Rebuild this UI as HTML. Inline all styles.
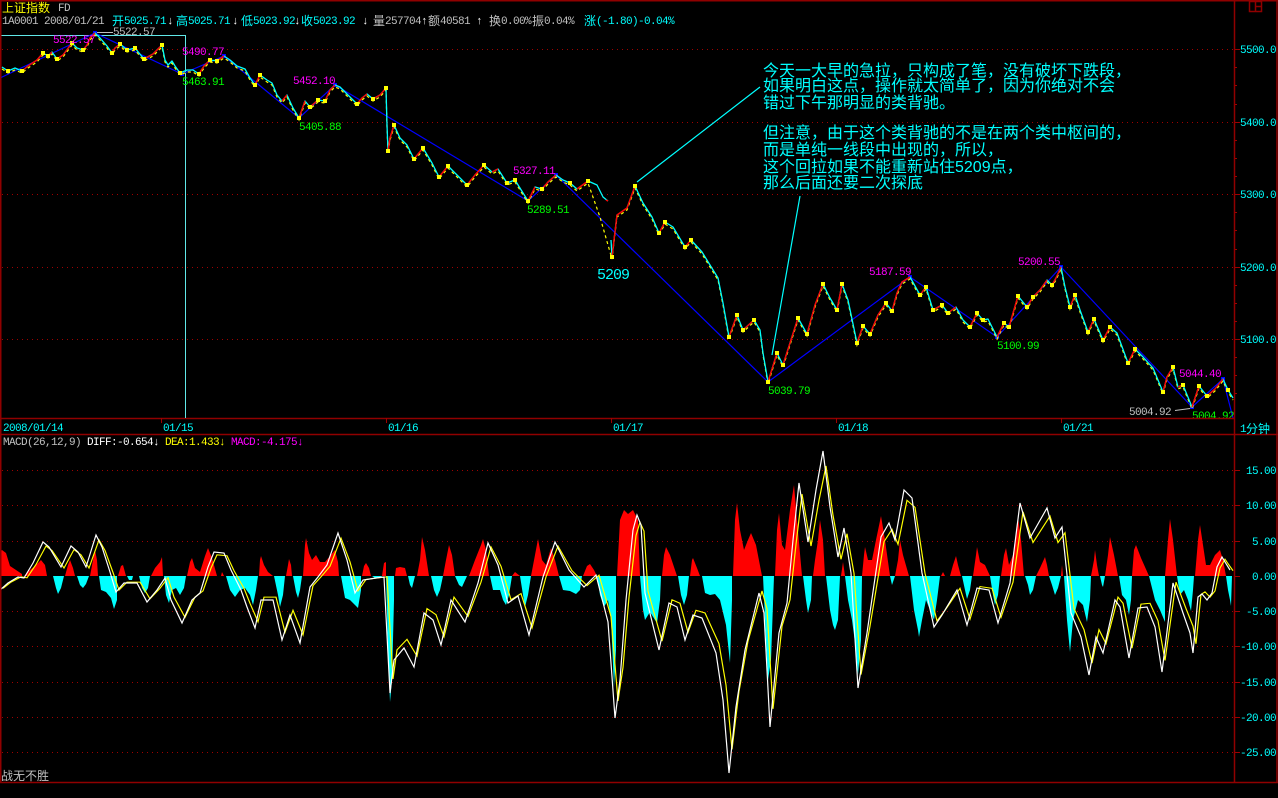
<!DOCTYPE html>
<html><head><meta charset="utf-8">
<style>
html,body{margin:0;padding:0;background:#000;width:1278px;height:798px;overflow:hidden}
svg{display:block}
.m{font-family:"Liberation Mono",monospace;font-size:11px;letter-spacing:-0.6px}
.c{font-family:"Liberation Sans","Noto Sans CJK SC",sans-serif;font-size:12px}
.t{font-family:"Liberation Sans","Noto Sans CJK SC",sans-serif;font-size:16px;fill:#00ffff}
</style></head>
<body>
<svg width="1278" height="798" viewBox="0 0 1278 798" xmlns="http://www.w3.org/2000/svg">
<rect width="1278" height="798" fill="#000"/>
<defs>
<path id="dif" fill="none" d="M0,590L8,583L18,577L24,578L33,563L43,542L49,547L61,567L71,546L78,552L86,567L96,535L102,547L110,572L116,592L124,583L137,583L147,602L157,590L165,578L171,600L182,623L192,600L200,593L208,567L214,552L224,553L231,570L241,590L247,607L255,628L261,600L273,600L282,640L290,615L300,643L310,587L318,577L327,565L338,533L347,560L355,593L363,580L376,578L384,577L390,693L394,660L404,648L414,667L424,613L433,620L441,645L451,600L465,622L478,583L488,543L498,565L508,603L518,596L529,635L543,577L555,542L569,570L584,587L596,575L608,622L615,718L620,680L626,600L633,530L637,515L641,525L645,593L659,650L669,603L677,607L685,640L693,615L702,618L716,653L723,700L729,773L736,707L745,650L759,593L764,613L770,727L779,633L787,603L793,540L799,483L808,542L816,490L823,451L830,507L838,557L844,528L851,573L858,688L867,633L881,537L889,523L895,540L904,490L912,498L922,573L934,627L942,615L957,590L967,625L977,588L989,590L998,623L1010,583L1020,503L1030,538L1047,508L1055,538L1062,527L1071,613L1081,637L1089,675L1096,637L1103,653L1115,600L1120,607L1129,658L1138,608L1147,607L1155,627L1162,672L1173,583L1183,613L1190,633L1193,653L1198,597L1202,594L1207,600L1212,593L1217,567L1222,557L1225,562L1230,570"/>
</defs>

<!-- grid lines main -->
<g stroke="#a00000" stroke-width="1" stroke-dasharray="1,4" fill="none">
<path d="M2,49.5H1234M2,122.5H1234M2,194.5H1234M2,267.5H1234M2,339.5H1234"/>
<path d="M2,470.5H1234M2,505.5H1234M2,541.5H1234M2,611.5H1234M2,646.5H1234M2,682.5H1234M2,717.5H1234M2,752.5H1234"/>
</g>

<!-- cyan rectangle -->
<path d="M0,35.5H185.5V418" stroke="#60e8e8" fill="none" stroke-width="1"/>

<!-- blue zigzag -->
<path d="M0,78L95,33L182,74L224,56L299,118L335,85L528,201L556,175L768,382L910,277L997,337L1061,267L1192,407L1223,379L1233,418" stroke="#0000ff" fill="none" stroke-width="1.2"/>
<path d="M95,33h0M182,74h0M224,56h0M299,118h0M335,85h0M528,201h0M556,175h0M768,382h0M910,277h0M997,337h0M1061,267h0M1192,407h0M1223,379h0" stroke="#0000ff" stroke-width="4" stroke-linecap="square"/>

<!-- yellow dashed price line -->
<path transform="translate(0,2)" fill="none" stroke="#ffff00" stroke-width="1.2" stroke-dasharray="3,3" d="M2,67L8,71L15,68L22,71L28,66L37,60L43,53L48,56L52,52L57,59L63,55L72,43L77,48L83,50L87,45L90,38L95,33L100,38L107,46L112,53L115,48L120,44L127,50L135,48L144,59L153,54L162,45L165,60L168,65L172,61L175,66L180,73L187,70L193,70L199,74L204,66L210,60L217,61L224,56L230,60L237,66L245,69L250,78L255,85L260,75L267,80L272,83L277,95L282,101L287,95L293,108L299,118L305,101L310,107L318,100L325,101L330,90L335,85L340,87L348,95L357,104L362,98L367,94L373,99L380,95L386,88L387,125L388,151L390,138L394,125L400,138L407,145L414,159L423,148L432,163L439,177L448,166L457,175L467,185L475,175L484,165L492,172L498,169L507,183L515,180L528,201L535,187L542,189L548,182L556,175L563,180L570,183L577,189L588,181L600,215L612,257L617,215L627,208L635,186L643,203L652,217L659,233L665,222L673,227L685,247L691,240L702,252L710,265L718,278L723,303L729,337L737,315L743,330L754,320L760,330L763,353L768,382L777,353L783,365L790,343L798,318L807,334L815,305L823,284L830,298L837,310L842,284L848,300L857,343L863,326L870,334L878,315L886,303L892,311L897,293L902,282L910,277L920,295L926,287L933,310L942,305L948,313L956,307L963,320L970,327L977,313L983,320L988,319L997,337L1004,323L1009,327L1018,296L1027,307L1033,297L1040,290L1047,280L1052,285L1056,278L1061,267L1065,287L1070,307L1075,295L1080,310L1088,332L1094,319L1103,340L1110,327L1117,333L1128,363L1135,349L1143,357L1153,368L1163,392L1167,377L1173,367L1178,387L1183,385L1192,407L1199,386L1207,396L1215,389L1223,379L1228,390L1233,398"/>

<!-- cyan price line -->
<path fill="none" stroke="#00ffff" stroke-width="1.3" stroke-linejoin="round" d="M2,67L8,71L15,68L22,71L28,66L37,60L43,53L48,56L52,52L57,59L63,55L72,43L77,48L83,50L87,45L90,38L95,33L100,38L107,46L112,53L115,48L120,44L127,50L135,48L144,59L153,54L162,45L165,60L168,65L172,61L175,66L180,73L187,70L193,70L199,74L204,66L210,60L217,61L224,56L230,60L237,66L245,69L250,78L255,85L260,75L267,80L272,83L277,95L282,101L287,95L293,108L299,118L305,101L310,107L318,100L325,101L330,90L335,85L340,87L348,95L357,104L362,98L367,94L373,99L380,95L386,88L387,125L388,151L390,138L394,125L400,138L407,145L414,159L423,148L432,163L439,177L448,166L457,175L467,185L475,175L484,165L492,172L498,169L507,183L515,180L528,201L535,187L542,189L548,182L556,175L563,180L570,183L577,189L588,181L597,185L603,197L608,201M611,240L612,257L617,215L627,208L635,186L643,203L652,217L659,233L665,222L673,227L685,247L691,240L702,252L710,265L718,278L723,303L729,337L737,315L743,330L754,320L760,330L763,353L768,382L777,353L783,365L790,343L798,318L807,334L815,305L823,284L830,298L837,310L842,284L848,300L857,343L863,326L870,334L878,315L886,303L892,311L897,293L902,282L910,277L920,295L926,287L933,310L942,305L948,313L956,307L963,320L970,327L977,313L983,320L988,319L997,337L1004,323L1009,327L1018,296L1027,307L1033,297L1040,290L1047,280L1052,285L1056,278L1061,267L1065,287L1070,307L1075,295L1080,310L1088,332L1094,319L1103,340L1110,327L1117,333L1128,363L1135,349L1143,357L1153,368L1163,392L1167,377L1173,367L1178,387L1183,385L1192,407L1199,386L1207,396L1215,389L1223,379L1228,390L1233,398"/>

<!-- red rising segments -->
<path fill="none" stroke="#ff0000" stroke-width="1.4" stroke-linejoin="round" d="M22,71L28,66L37,60L43,53M48,56L52,52M57,59L63,55L72,43M83,50L87,45L90,38L95,33M112,53L115,48L120,44M144,59L153,54L162,45M199,74L204,66L210,60M217,61L224,56M255,85L260,75M282,101L287,95M299,118L305,101M310,107L318,100M325,101L330,90L335,85M357,104L362,98L367,94M373,99L380,95L386,88M388,151L390,138L394,125M414,159L423,148M439,177L448,166M467,185L475,175L484,165M492,172L498,169M528,201L535,187M542,189L548,182L556,175M577,189L588,181M606,200L608,201M612,257L617,215L627,208L635,186M659,233L665,222M685,247L691,240M729,337L737,315M743,330L754,320M768,382L777,353M783,365L790,343L798,318M807,334L815,305L823,284M837,310L842,284M857,343L863,326M870,334L878,315L886,303M892,311L897,293L902,282L910,277M920,295L926,287M933,310L942,305M948,313L956,307M970,327L977,313M997,337L1004,323M1009,327L1018,296M1027,307L1033,297L1040,290L1047,280M1052,285L1056,278L1061,267M1070,307L1075,295M1088,332L1094,319M1103,340L1110,327M1128,363L1135,349M1163,392L1167,377L1173,367M1178,387L1183,385M1192,407L1199,386M1207,396L1215,389L1223,379"/>

<!-- yellow dots -->
<path stroke="#ffff00" stroke-width="4" stroke-linecap="square" d="M8,71h0M22,71h0M43,53h0M48,56h0M57,59h0M72,43h0M83,50h0M112,53h0M120,44h0M127,50h0M135,48h0M144,59h0M162,45h0M180,73h0M199,74h0M210,60h0M217,61h0M255,85h0M260,75h0M299,118h0M310,107h0M318,100h0M325,101h0M357,104h0M373,99h0M386,88h0M388,151h0M394,125h0M414,159h0M423,148h0M439,177h0M448,166h0M467,185h0M484,165h0M507,183h0M515,180h0M528,201h0M542,189h0M570,183h0M588,181h0M612,257h0M635,186h0M659,233h0M665,222h0M685,247h0M691,240h0M729,337h0M737,315h0M743,330h0M754,320h0M768,382h0M777,353h0M783,365h0M798,318h0M807,334h0M823,284h0M837,310h0M842,284h0M857,343h0M863,326h0M870,334h0M886,303h0M892,311h0M920,295h0M926,287h0M933,310h0M942,305h0M948,313h0M970,327h0M977,313h0M983,320h0M1004,323h0M1009,327h0M1018,296h0M1027,307h0M1033,297h0M1052,285h0M1070,307h0M1075,295h0M1088,332h0M1094,319h0M1103,340h0M1110,327h0M1128,363h0M1135,349h0M1163,392h0M1173,367h0M1183,385h0M1199,386h0M1207,396h0M1228,390h0"/>

<!-- cyan leader lines -->
<path d="M637,182L760,87M772,355L800,196" stroke="#00ffff" stroke-width="1.2" fill="none"/>
<!-- white leaders -->
<path d="M97,32.5H113M1175,410.5L1190,408.5" stroke="#c0c0c0" stroke-width="1" fill="none"/>

<!-- price labels -->
<g class="m">
<text x="113" y="35" fill="#c0c0c0">5522.57</text>
<text x="53" y="43" fill="#ff00ff">5522.57</text>
<text x="182" y="55" fill="#ff00ff">5490.77</text>
<text x="182" y="85" fill="#00ff00">5463.91</text>
<text x="293" y="84" fill="#ff00ff">5452.10</text>
<text x="299" y="130" fill="#00ff00">5405.88</text>
<text x="513" y="174" fill="#ff00ff">5327.11</text>
<text x="527" y="213" fill="#00ff00">5289.51</text>
<text x="768" y="394" fill="#00ff00">5039.79</text>
<text x="869" y="275" fill="#ff00ff">5187.59</text>
<text x="997" y="349" fill="#00ff00">5100.99</text>
<text x="1018" y="265" fill="#ff00ff">5200.55</text>
<text x="1179" y="377" fill="#ff00ff">5044.40</text>
<text x="1129" y="415" fill="#c0c0c0">5004.92</text>
<text x="1192" y="419" fill="#00ff00">5004.92</text>
</g>
<text x="597" y="279" fill="#00ffff" style="font-family:'Liberation Mono',monospace;font-size:15px;letter-spacing:-1px">5209</text>

<!-- annotation text -->
<text class="t" x="763" y="76">今天一大早的急拉，只构成了笔，没有破坏下跌段，</text>
<text class="t" x="763" y="91">如果明白这点，操作就太简单了，因为你绝对不会</text>
<text class="t" x="763" y="108">错过下午那明显的类背驰。</text>
<text class="t" x="763" y="138">但注意，由于这个类背驰的不是在两个类中枢间的，</text>
<text class="t" x="763" y="155">而是单纯一线段中出现的，所以，</text>
<text class="t" x="763" y="172">这个回拉如果不能重新站住5209点，</text>
<text class="t" x="763" y="188">那么后面还要二次探底</text>

<!-- MACD histogram -->
<path fill="#ff0000" d="M0,576L0,552L2,550L6,553L10,566L16,570L22,574L22,576ZM24,576L30,570L36,565L41,560L45,565L47,576ZM65,576L68,565L70,560L73,568L75,576ZM90,576L93,560L95,550L97,560L98,576ZM118,576L121,566L123,565L126,576ZM151,576L155,568L160,562L162,557L163,576ZM187,576L190,562L192,558L195,568L200,572L205,556L208,548L212,558L217,576ZM221,576L222,572L224,576ZM259,576L260,560L261,556L264,565L268,572L273,576ZM286,576L288,565L289,559L291,565L292,576ZM303,576L305,545L306,538L309,553L312,560L316,555L320,562L325,562L330,556L335,550L338,562L339,576ZM362,576L364,566L366,563L369,568L371,576ZM382,576L384,563L386,562L386,576ZM395,576L396,568L400,567L405,568L407,576ZM417,576L420,560L422,537L425,550L429,576ZM443,576L446,560L449,545L452,555L455,576ZM469,576L475,560L481,545L483,539L486,550L489,576ZM512,576L515,572L520,576ZM531,576L535,555L538,539L542,560L546,565L551,548L555,560L559,576ZM583,576L587,566L590,564L594,570L597,576ZM617,576L620,520L624,510L628,514L633,510L638,520L640,576ZM662,576L664,555L666,547L670,555L677,576ZM690,576L692,560L693,558L697,568L700,576ZM733,576L735,520L737,503L740,530L744,550L748,540L751,533L756,545L762,576ZM775,576L777,530L779,513L782,545L785,550L790,510L794,485L797,520L802,576ZM813,576L815,560L818,540L820,520L823,540L825,576ZM841,576L843,562L845,576ZM862,576L864,555L865,547L868,560L872,560L876,540L881,516L885,540L890,576ZM895,576L898,560L900,540L903,555L909,576ZM941,576L943,572L945,576ZM950,576L953,565L956,556L958,565L961,576ZM973,576L976,555L977,547L980,562L985,565L990,576ZM1001,576L1004,555L1006,548L1009,565L1013,555L1018,517L1021,540L1024,576ZM1036,576L1040,568L1045,557L1047,565L1049,576ZM1061,576L1062,565L1063,576ZM1091,576L1094,560L1095,550L1097,565L1099,576ZM1105,576L1108,555L1110,537L1114,555L1118,576ZM1132,576L1134,550L1136,545L1141,558L1149,576ZM1165,576L1168,540L1170,519L1173,540L1177,576ZM1195,576L1198,540L1200,525L1203,545L1206,565L1210,565L1215,555L1220,550L1223,560L1226,576Z"/>
<path fill="#00ffff" d="M53,576L56,588L58,594L61,588L64,576ZM77,576L80,585L83,588L86,584L89,576ZM99,576L101,590L106,592L111,598L114,609L117,600L117,576ZM127,576L129,580L132,580L133,576ZM139,576L142,588L145,593L148,588L150,576ZM164,576L166,595L169,603L172,590L176,588L180,595L184,588L186,576ZM226,576L230,590L235,597L240,590L245,588L250,595L253,605L256,590L258,576ZM274,576L278,595L280,607L283,595L285,576ZM293,576L296,592L298,598L300,590L302,576ZM341,576L345,598L350,600L355,605L358,608L361,590L361,576ZM372,576L375,578L380,578L382,576ZM386,576L388,650L390,702L392,680L394,600L394,576ZM408,576L410,585L412,588L415,576ZM431,576L434,590L437,597L440,590L443,576ZM455,576L459,585L462,587L467,576ZM490,576L493,590L496,590L500,590L503,600L506,605L509,595L512,576ZM520,576L523,595L525,607L528,595L531,576ZM559,576L563,590L570,591L576,594L580,590L582,576ZM597,576L600,595L604,607L608,600L611,620L614,687L616,650L616,576ZM640,576L643,610L645,620L650,612L655,620L657,623L660,600L661,576ZM678,576L681,595L684,605L687,595L689,576ZM702,576L705,593L710,595L715,594L720,600L726,625L730,663L732,600L732,576ZM763,576L766,640L768,680L771,660L774,576ZM803,576L806,600L808,613L811,600L812,576ZM826,576L830,610L833,625L835,630L838,620L840,576ZM845,576L848,600L852,620L856,650L858,675L861,640L862,576ZM890,576L892,585L895,576ZM910,576L914,610L918,630L919,637L922,620L926,600L930,610L934,620L937,600L940,576ZM962,576L965,590L967,599L970,590L972,576ZM990,576L993,595L995,605L998,595L1000,576ZM1025,576L1028,585L1030,595L1033,590L1036,576ZM1049,576L1052,585L1055,595L1058,588L1061,576ZM1064,576L1067,620L1070,652L1073,620L1078,600L1083,605L1087,622L1090,600L1091,576ZM1100,576L1102,585L1103,587L1105,576ZM1119,576L1122,595L1126,600L1129,615L1131,600L1132,576ZM1149,576L1155,600L1160,610L1165,622L1165,576ZM1177,576L1180,595L1184,590L1188,600L1191,611L1193,590L1194,576ZM1226,576L1228,590L1230,600L1231,606L1232,576Z"/>

<!-- DEA (yellow) and DIFF (white) -->
<use href="#dif" stroke="#ffff00" stroke-width="1.2" vector-effect="non-scaling-stroke" transform="translate(3,69.1) scale(1,0.88)"/>
<use href="#dif" stroke="#ffffff" stroke-width="1.2"/>

<!-- borders -->
<g stroke="#900000" stroke-width="1.5" fill="none">
<path d="M0,0.75H1278"/>
<path d="M0.75,0V782"/>
<path d="M0,418.5H1234"/>
<path d="M0,434.5H1278"/>
<path d="M1234.5,0V782"/>
<path d="M1277,0V782"/>
<path d="M0,782.5H1278"/>
<path d="M1249.5,1.5h12v10h-12zM1255.5,1.5v10M1255.5,6.5h6"/>
</g>
<!-- ticks -->
<g stroke="#a00000" stroke-width="1">
<path d="M161.5,418V423M386.5,418V423M611.5,418V423M836.5,418V423M1061.5,418V423"/>
<path d="M1235,49.5h5M1235,122.5h5M1235,194.5h5M1235,267.5h5M1235,339.5h5M1235,67.5h2M1235,85.5h2M1235,104.5h2M1235,140.5h2M1235,158.5h2M1235,176.5h2M1235,212.5h2M1235,230.5h2M1235,249.5h2M1235,285.5h2M1235,303.5h2M1235,321.5h2M1235,357.5h2M1235,375.5h2M1235,393.5h2"/>
<path d="M1235,470.5h5M1235,505.5h5M1235,541.5h5M1235,576.5h5M1235,611.5h5M1235,646.5h5M1235,682.5h5M1235,717.5h5M1235,752.5h5"/>
</g>
<path d="M185.5,410V418" stroke="#60e8e8"/>

<!-- header -->
<text class="c" x="2" y="12" fill="#ffff00">上证指数</text>
<text class="m" x="58" y="11" fill="#c0c0c0">FD</text>
<text class="m" x="2" y="24" fill="#c0c0c0">1A0001 2008/01/21</text>
<text class="c" x="112" y="25" fill="#00ffff">开</text><text class="m" x="124" y="24" fill="#00ffff">5025.71</text><text class="m" x="167" y="24" fill="#ffffff">↓</text>
<text class="c" x="176" y="25" fill="#00ffff">高</text><text class="m" x="188" y="24" fill="#00ffff">5025.71</text><text class="m" x="232" y="24" fill="#ffffff">↓</text>
<text class="c" x="241" y="25" fill="#00ffff">低</text><text class="m" x="253" y="24" fill="#00ffff">5023.92</text><text class="m" x="294" y="24" fill="#ffffff">↓</text>
<text class="c" x="301" y="25" fill="#00ffff">收</text><text class="m" x="313" y="24" fill="#00ffff">5023.92</text><text class="m" x="362" y="24" fill="#ffffff">↓</text>
<text class="c" x="373" y="25" fill="#c0c0c0">量</text><text class="m" x="385" y="24" fill="#c0c0c0">257704</text><text class="m" x="421" y="24" fill="#ffffff">↑</text>
<text class="c" x="428" y="25" fill="#c0c0c0">额</text><text class="m" x="440" y="24" fill="#c0c0c0">40581</text><text class="m" x="476" y="24" fill="#ffffff">↑</text>
<text class="c" x="489" y="25" fill="#c0c0c0">换</text><text class="m" x="501" y="24" fill="#c0c0c0">0.00%</text>
<text class="c" x="532" y="25" fill="#c0c0c0">振</text><text class="m" x="544" y="24" fill="#c0c0c0">0.04%</text>
<text class="c" x="584" y="25" fill="#00ffff">涨</text><text class="m" x="596" y="24" fill="#00ffff">(-1.80)-0.04%</text>

<!-- right axis labels -->
<g class="m" fill="#00ffff" text-anchor="end">
<text x="1276" y="53">5500.0</text>
<text x="1276" y="126">5400.0</text>
<text x="1276" y="198">5300.0</text>
<text x="1276" y="271">5200.0</text>
<text x="1276" y="343">5100.0</text>
<text x="1276" y="474">15.00</text>
<text x="1276" y="509">10.00</text>
<text x="1276" y="545">5.00</text>
<text x="1276" y="580">0.00</text>
<text x="1276" y="615">-5.00</text>
<text x="1276" y="650">-10.00</text>
<text x="1276" y="686">-15.00</text>
<text x="1276" y="721">-20.00</text>
<text x="1276" y="756">-25.00</text>
</g>
<text class="m" x="1240" y="432" fill="#00ffff">1</text><text class="c" x="1246" y="433" fill="#00ffff">分钟</text>

<!-- dates -->
<g class="m" fill="#00ffff">
<text x="3" y="431">2008/01/14</text>
<text x="163" y="431">01/15</text>
<text x="388" y="431">01/16</text>
<text x="613" y="431">01/17</text>
<text x="838" y="431">01/18</text>
<text x="1063" y="431">01/21</text>
</g>

<!-- MACD header -->
<g class="m">
<text x="3" y="445" fill="#c0c0c0">MACD(26,12,9)</text>
<text x="87" y="445" fill="#ffffff">DIFF:-0.654↓</text>
<text x="165" y="445" fill="#ffff00">DEA:1.433↓</text>
<text x="231" y="445" fill="#ff00ff">MACD:-4.175↓</text>
</g>

<text class="c" x="1" y="780" fill="#c0c0c0">战无不胜</text>
</svg>
</body></html>
